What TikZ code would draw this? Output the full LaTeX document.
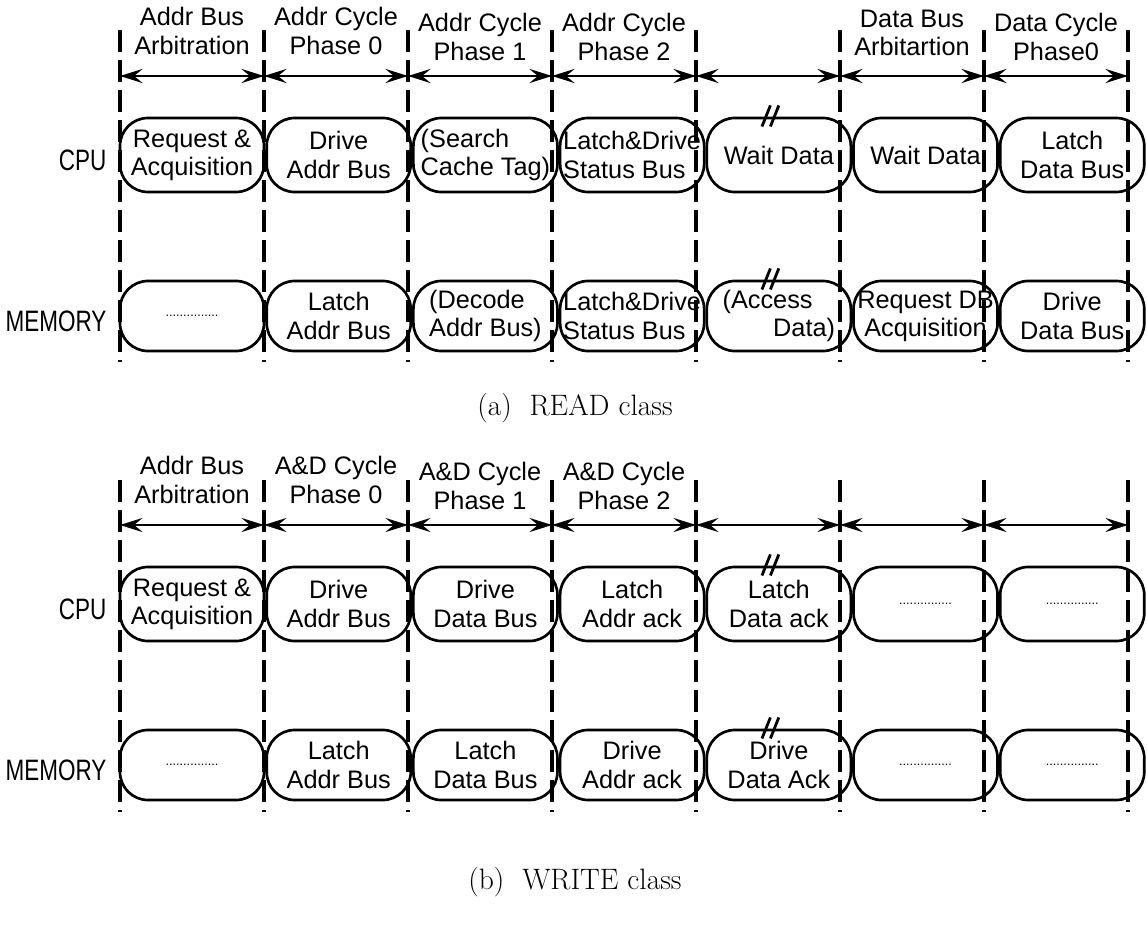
\documentclass[tikz,border=0pt]{standalone}
\usepackage{fontspec}
\usetikzlibrary{arrows.meta, positioning}
\newfontfamily\plotfont{Liberation Sans}
\newcommand{\dotrow}{{\fontsize{9}{9}\selectfont ...............}}
\newcommand{\narrow}[1]{\scalebox{0.8}[1.05]{#1}}

\begin{document}
\begin{tikzpicture}[
  x=0.025cm, y=-0.025cm,
  txt/.style={font=\plotfont\fontsize{18}{20}\selectfont, align=center},
  phasebox/.style={txt, rectangle, rounded corners=0.7cm, draw,
                   line width=1.9pt, minimum width=3.6cm, inner sep=1pt},
  cpubox/.style={phasebox, minimum height=1.85cm},
  membox/.style={phasebox, minimum height=1.75cm},
  hdr/.style={txt, inner sep=0pt},
  rowlabel/.style={txt, font=\plotfont\fontsize{20}{22}\selectfont, inner sep=0pt},
  tick/.style={line width=2.2pt, dash pattern=on 0.55cm off 0.2cm},
  span/.style={{Stealth[length=16pt, width=10pt, inset=6pt]}-{Stealth[length=16pt, width=10pt, inset=6pt]},
               line width=2pt},
  brk/.style={line width=2pt},
  caption/.style={font=\fontsize{21}{24}\selectfont},
]
\useasboundingbox (0,0) rectangle (1147,928);

% (a) READ class
\foreach \i in {0,...,7} {
  \coordinate (rt\i) at (120+144*\i,30);
  \coordinate (rb\i) at (120+144*\i,362);
  \coordinate (ra\i) at (120+144*\i,76);
}
\foreach \i in {0,...,7} \draw[tick] (rt\i) -- (rb\i);
\foreach \i [evaluate=\i as \j using int(\i+1)] in {0,...,6}
  \draw[span] (ra\i) -- (ra\j);

\node[hdr] (rh1) at (192,31) {Addr Bus\\Arbitration};
\node[hdr] (rh2) at (336,31) {Addr Cycle\\Phase 0};
\node[hdr] (rh3) at (480,37) {Addr Cycle\\Phase 1};
\node[hdr] (rh4) at (624,37) {Addr Cycle\\Phase 2};
\node[hdr] (rh6) at (912,33) {Data Bus\\Arbitartion};
\node[hdr] (rh7) at (1056,37) {Data Cycle\\Phase0};

\node[cpubox] (rc1) at (192,155) {Request \&\\Acquisition};
\node[cpubox, right=0pt of rc1] (rc2) {Drive\\Addr Bus};
\node[cpubox, right=0pt of rc2, align=left] (rc3) {(Search\\Cache Tag)};
\node[cpubox, right=0pt of rc3, align=left] (rc4) {Latch\&Drive\\Status Bus};
\node[cpubox, right=0pt of rc4] (rc5) {Wait Data};
\node[cpubox, right=0pt of rc5] (rc6) {Wait Data};
\node[cpubox, right=0pt of rc6] (rc7) {Latch\\Data Bus};

\node[membox] (rm1) at (192,316) {\dotrow};
\node[membox, right=0pt of rm1] (rm2) {Latch\\Addr Bus};
\node[membox, right=0pt of rm2, align=left] (rm3) {(Decode\\Addr Bus)};
\node[membox, right=0pt of rm3, align=left] (rm4) {Latch\&Drive\\Status Bus};
\node[membox, right=0pt of rm4, align=left] (rm5) {(Access\\\hspace*{2em}Data)};
\node[membox, right=0pt of rm5] (rm6) {Request DB\\Acquisition};
\node[membox, right=0pt of rm6] (rm7) {Drive\\Data Bus};

\node[rowlabel, left=0.3cm of rc1, yshift=-4pt] (rcpu) {\narrow{CPU}};
\node[rowlabel, left=0.3cm of rm1, yshift=-4pt] (rmem) {\narrow{MEMORY}};

\node[caption] (rcap) at (575,408) {(a)\ \ READ class};

% (b) WRITE class
\foreach \i in {0,...,7} {
  \coordinate (wt\i) at (120+144*\i,480);
  \coordinate (wb\i) at (120+144*\i,812);
  \coordinate (wa\i) at (120+144*\i,525);
}
\foreach \i in {0,...,7} \draw[tick] (wt\i) -- (wb\i);
\foreach \i [evaluate=\i as \j using int(\i+1)] in {0,...,6}
  \draw[span] (wa\i) -- (wa\j);

\node[hdr] (wh1) at (192,480) {Addr Bus\\Arbitration};
\node[hdr] (wh2) at (336,480) {A\&D Cycle\\Phase 0};
\node[hdr] (wh3) at (480,486) {A\&D Cycle\\Phase 1};
\node[hdr] (wh4) at (624,486) {A\&D Cycle\\Phase 2};

\node[cpubox] (wc1) at (192,604) {Request \&\\Acquisition};
\node[cpubox, right=0pt of wc1] (wc2) {Drive\\Addr Bus};
\node[cpubox, right=0pt of wc2] (wc3) {Drive\\Data Bus};
\node[cpubox, right=0pt of wc3] (wc4) {Latch\\Addr ack};
\node[cpubox, right=0pt of wc4] (wc5) {Latch\\Data ack};
\node[cpubox, right=0pt of wc5] (wc6) {\dotrow};
\node[cpubox, right=0pt of wc6] (wc7) {\dotrow};

\node[membox] (wm1) at (192,765) {\dotrow};
\node[membox, right=0pt of wm1] (wm2) {Latch\\Addr Bus};
\node[membox, right=0pt of wm2] (wm3) {Latch\\Data Bus};
\node[membox, right=0pt of wm3] (wm4) {Drive\\Addr ack};
\node[membox, right=0pt of wm4] (wm5) {Drive\\Data Ack};
\node[membox, right=0pt of wm5] (wm6) {\dotrow};
\node[membox, right=0pt of wm6] (wm7) {\dotrow};

\node[rowlabel, left=0.3cm of wc1, yshift=-4pt] (wcpu) {\narrow{CPU}};
\node[rowlabel, left=0.3cm of wm1, yshift=-4pt] (wmem) {\narrow{MEMORY}};

\node[caption] (wcap) at (575,882) {(b)\ \ WRITE class};

% break marks on the long phase
\foreach \b in {rc5, rm5, wc5, wm5} {
  \draw[brk] ([xshift=-12pt, yshift=-7pt]\b.north) -- ++(6pt,15pt);
  \draw[brk] ([xshift=-6pt, yshift=-7pt]\b.north) -- ++(6pt,15pt);
}

\end{tikzpicture}
\end{document}
